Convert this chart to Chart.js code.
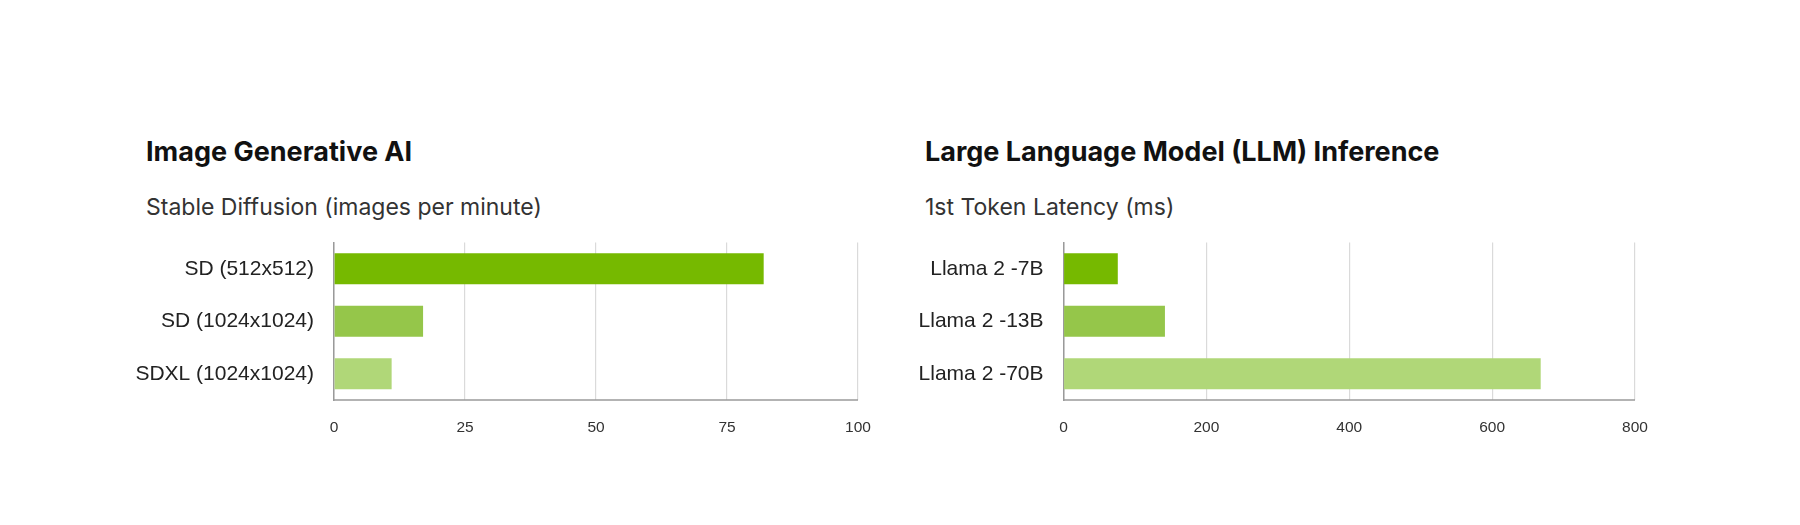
<!DOCTYPE html>
<html>
<head>
<meta charset="utf-8">
<script src="https://cdn.jsdelivr.net/npm/chart.js@4"></script>
<style>
  html, body { margin: 0; padding: 0; background: #fff; }
  body { width: 1800px; height: 525px; position: relative; overflow: hidden; }
  .title { position: absolute; font-family: Inter, "Noto Sans", sans-serif; font-weight: 700; font-size: 27px; color: #111; white-space: nowrap; line-height: 33px; }
  .sub { position: absolute; font-family: Inter, "Noto Sans", sans-serif; font-weight: 400; font-size: 23px; color: #333; white-space: nowrap; line-height: 28px; }
  .box { position: absolute; }
</style>
</head>
<body>
<div class="title" style="left:146px; top:135px;">Image Generative AI</div>
<div class="sub" style="left:146px; top:193px;">Stable Diffusion (images per minute)</div>
<div class="title" style="left:925px; top:135px;">Large Language Model (LLM) Inference</div>
<div class="sub" style="left:925px; top:193px;">1st Token Latency (ms)</div>

<div class="box" style="left:100px; top:210px; width:798px; height:236px;"><canvas id="chartSD"></canvas></div>
<div class="box" style="left:830px; top:210px; width:845px; height:236px;"><canvas id="chartLLM"></canvas></div>

<script>
// Image generative AI
var sdLabels = ['SD (512x512)', 'SD (1024x1024)', 'SDXL (1024x1024)'];
var sdValues = [82, 17, 11];
var sdTicks = [0, 25, 50, 75, 100];

// LLM inference
var llmLabels = ['Llama 2 -7B', 'Llama 2 -13B', 'Llama 2 -70B'];
var llmValues = [76, 142, 668];
var llmTicks = [0, 200, 400, 600, 800];

var barColors = ['#76b900', '#95c64a', '#b0d778'];

function makeChart(id, labels, values, ticks, yWidth) {
    var ctx = document.getElementById(id).getContext('2d');
    return new Chart(ctx, {
        type: 'bar',
        data: {
            labels: labels,
            datasets: [{
                data: values,
                backgroundColor: barColors,
                borderWidth: 0,
                categoryPercentage: 1,
                barPercentage: 0.59
            }]
        },
        options: {
            indexAxis: 'y',
            responsive: true,
            maintainAspectRatio: false,
            animation: false,
            // top padding has to cover the y tick padding chart.js adds up there
            layout: { padding: { top: 32, right: 40, bottom: 0, left: 0 } },
            plugins: { legend: { display: false }, tooltip: { enabled: false } },
            scales: {
                x: {
                    min: ticks[0],
                    max: ticks[ticks.length - 1],
                    afterBuildTicks: function (axis) {
                        axis.ticks = ticks.map(function (v) { return { value: v }; });
                    },
                    afterFit: function (axis) { axis.height = 46; },
                    grid: { color: '#dadada', lineWidth: 1.2, drawTicks: false },
                    border: { display: false },
                    ticks: {
                        padding: 18,
                        color: '#333',
                        font: { family: '"Liberation Sans", Arial, sans-serif', size: 15.5 }
                    }
                },
                y: {
                    afterFit: function (axis) { axis.width = yWidth; },
                    grid: { display: false, drawTicks: false },
                    border: { display: true, color: '#9a9a9a', width: 1.5 },
                    ticks: {
                        padding: 20,
                        color: '#222',
                        font: { family: '"Liberation Sans", Arial, sans-serif', size: 21 }
                    }
                }
            }
        },
        plugins: [{
            // grey baseline along the bottom like the original
            id: 'baseline',
            afterDraw: function (chart) {
                var a = chart.chartArea, c = chart.ctx;
                c.save();
                c.strokeStyle = '#9a9a9a';
                c.lineWidth = 1.5;
                c.beginPath();
                c.moveTo(a.left, a.bottom);
                c.lineTo(a.right, a.bottom);
                c.stroke();
                c.restore();
            }
        }]
    });
}

makeChart('chartSD', sdLabels, sdValues, sdTicks, 234);
makeChart('chartLLM', llmLabels, llmValues, llmTicks, 233.5);
</script>
</body>
</html>
